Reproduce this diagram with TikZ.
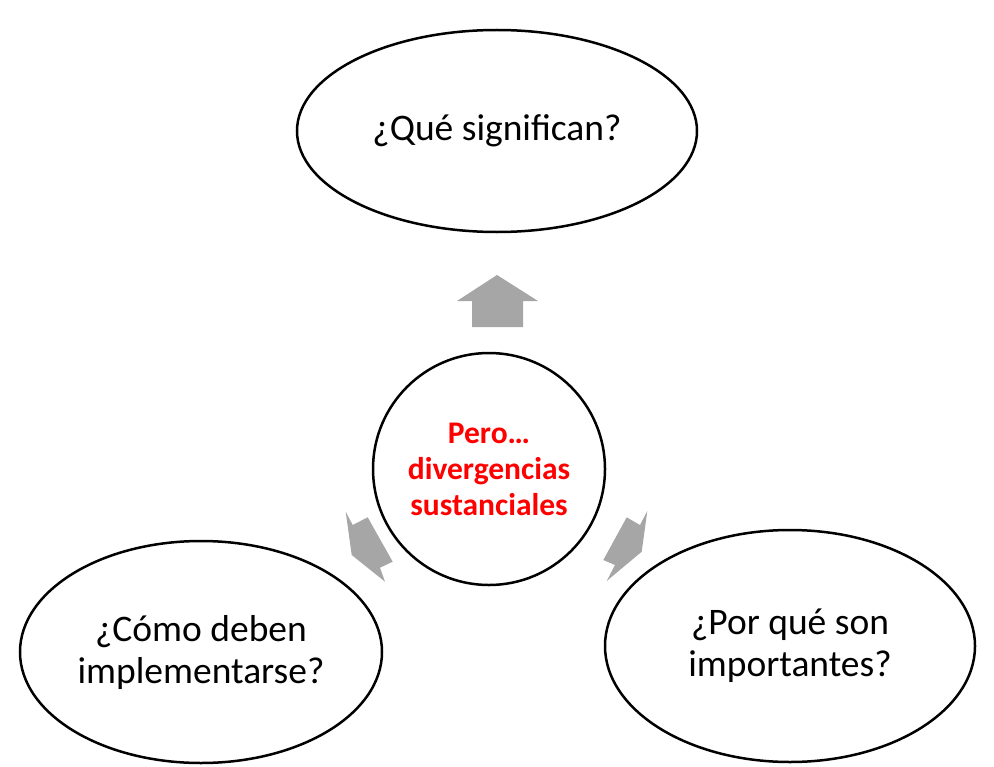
\documentclass[tikz,border=0pt]{standalone}
\usepackage{fontspec}
\setmainfont{Carlito}
\usetikzlibrary{shapes.geometric}
\definecolor{arrowgray}{RGB}{166,166,166}
\definecolor{titlered}{RGB}{255,0,0}

\tikzset{
  question/.style={ellipse,draw=black,line width=2.5bp,fill=white,inner sep=0pt,
    align=center,font=\fontsize{37.5bp}{42bp}\selectfont},
  hub/.style={circle,draw=black,line width=2.5bp,fill=white,inner sep=0pt,
    minimum size=232bp,align=center,text=titlered,font=\bfseries\fontsize{31.5bp}{36bp}\selectfont},
  blockarrow/.style={fill=arrowgray,draw=none}
}

\begin{document}
\begin{tikzpicture}[x=1bp,y=-1bp]

\useasboundingbox (0,0) rectangle (994,767);

% arrows
\draw[blockarrow] (497,275)--(538,301)--(523,301)--(523,327)--(472,327)--(472,301)--(457,301)--cycle;
\draw[blockarrow] (345.7,511.7)--(352.7,525)--(367.7,517.3)--(392.7,561.7)--(380,567.7)--(385,581.7)--(351.7,555)--cycle;
\draw[blockarrow] (647.3,511)--(640,525)--(626.7,517.3)--(603.3,560)--(615,565)--(606.7,581)--(641.7,551.7)--cycle;

% nodes
\node[hub] (pero) at (489,469) {Pero…\\divergencias\\sustanciales};
\node[question,minimum width=400bp,minimum height=202bp] (significan) at (497,131) {¿Qué significan?};
\node[question,minimum width=362bp,minimum height=222bp] (implementar) at (201,652) {¿Cómo deben\\implementarse?};
\node[question,minimum width=370bp,minimum height=232bp] (importantes) at (790,646) {¿Por qué son\\importantes?};

\end{tikzpicture}
\end{document}
